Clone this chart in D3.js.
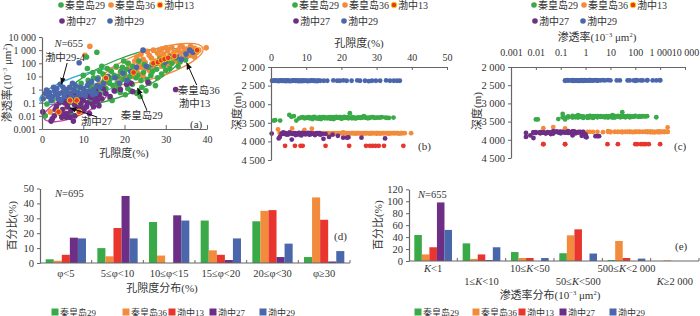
<!DOCTYPE html>
<html>
<head>
<meta charset="utf-8">
<script src="https://cdn.jsdelivr.net/npm/d3@7"></script>
<style>
body { margin: 0; background: #fff; }
svg text { font-family: "Liberation Serif", "Noto Sans CJK SC", serif; fill: #333; }
</style>
</head>
<body>
<svg width="700" height="316"></svg>
<script>
var fields = ["秦皇岛29", "秦皇岛36", "渤中13", "渤中27", "渤中29"];
var fieldColors = ["#3aaa48", "#f28b3c", "#e8352e", "#6d2f85", "#4b67ac"];

// samples: [porosity %, permeability 10^-3 um2, depth m]
var qhd29 = [[0.8,0.01,3440],[1.2,0.08,3430],[2.6,0.15,3440],[5.2,0.12,3290],[5.8,0.3,3340],[6.5,0.5,3320],
  [7.2,0.012,3440],[8.0,0.2,3380],[8.5,0.4,3360],[9.0,1.5,3350],[9.5,3,3380],[9.8,0.2,3370],[10.0,12,3360],
  [10.2,0.6,3370],[10.8,300,3350],[11.0,40,3380],[11.2,5,3360],[11.5,0.12,3380],[11.8,1.2,3400],[12.0,3,3350],
  [12.3,20,3340],[12.5,8,3360],[12.8,0.3,3380],[13.0,1.5,3370],[13.3,700,3380],[13.6,8,3390],[13.8,0.6,3350],
  [14.0,25,3360],[14.2,2,3400],[14.5,60,3370],[14.8,15,3350],[15.0,4,3350],[15.3,0.5,3380],[15.5,1.2,3360],
  [15.8,40,3360],[16.0,6,3380],[16.4,3,3370],[16.5,0.2,3360],[16.6,7,3350],[16.8,25,3380],[17.0,0.15,3390],
  [17.2,2,3350],[17.5,12,3390],[17.8,0.8,3400],[18.0,60,3350],[18.2,3,3360],[18.4,10,3370],[18.6,1.5,3340],
  [19.0,0.6,3360],[19.1,25,3360],[19.5,50,3350],[19.7,6,3370],[19.8,150,3350],[20.0,15,3390],[20.2,0.4,3380],
  [20.5,35,3360],[20.8,100,3340],[20.8,1.2,3360],[21.0,4,3370],[21.3,10,3360],[21.5,0.8,3370],[21.9,2.5,3350],
  [22.0,60,3380],[22.4,30,3240],[22.8,8,3360],[23.0,0.5,3380],[23.2,12,3350],[23.5,150,3360],[23.8,0.3,3380],
  [24.0,5,3370],[24.2,1.5,3380],[24.6,20,3360],[24.8,80,3360],[25.2,0.8,3360],[25.5,6,3370],[25.8,50,3350],
  [26.0,3,3360],[26.4,12,3320],[26.8,25,3360],[27.0,90,3360],[27.5,2,3380],[27.8,35,3360],[28.0,8,3370],
  [28.6,200,3350],[29.0,15,3350],[29.5,70,3370],[30.0,30,3360],[30.5,150,3360],[31.0,40,3360],[31.5,100,3350],
  [32.5,250,3360],[33.0,60,3370],[33.5,130,3370],[34.8,180,3360]];
var qhd36 = [[2.0,0.02,3680],[2.5,0.3,3780],[4.0,0.5,3790],[6.0,0.05,3650],[7.0,0.8,3780],[9.5,0.15,3690],
  [10.4,400,3780],[11.6,2000,3660],[12.0,1.5,3780],[13.3,0.5,3780],[14.0,3,3780],[15.0,2,3780],[16.0,10,3780],
  [16.5,30,3780],[17.5,1.2,3780],[18.0,50,3780],[18.5,5,3790],[19.0,20,3780],[19.5,8,3780],[20.0,15,3780],
  [20.5,8,3760],[21.0,40,3780],[21.0,100,3780],[21.5,30,3780],[22.0,60,3780],[22.0,10,3790],[22.5,150,3780],
  [23.0,300,3780],[23.0,25,3780],[23.5,90,3780],[23.5,15,3780],[24.0,500,3790],[24.0,50,3780],[24.5,200,3780],
  [24.5,10,3780],[25.0,120,3780],[25.0,40,3780],[25.5,800,3780],[26.0,400,3780],[26.0,30,3790],[26.5,250,3780],
  [26.5,20,3780],[27.0,1000,3780],[27.0,60,3780],[27.5,150,3780],[28.0,600,3790],[28.0,100,3780],
  [28.5,350,3780],[28.5,900,3780],[29.0,1200,3780],[29.0,60,3780],[29.5,500,3780],[30.0,200,3780],
  [30.0,80,3790],[30.0,1500,3780],[30.5,900,3780],[31.0,400,3790],[31.0,70,3780],[31.5,1500,3780],
  [32.0,700,3780],[32.0,150,3780],[32.5,300,3780],[33.0,1000,3780],[33.0,120,3780],[33.5,600,3790],
  [33.5,2000,3780],[34.0,1800,3780],[34.0,250,3780],[34.5,800,3780],[35.0,1200,3780],[35.0,300,3780],
  [35.5,500,3780],[36.0,2000,3780],[36.0,400,3780],[36.5,900,3790],[37.0,1400,3780],[37.0,300,3780],
  [37.5,700,3780],[38.0,1000,3780],[39.8,1500,3780]];
var bz13 = [[4.0,0.02,4120],[6.8,0.15,4120],[8.4,0.15,4120],[9.0,0.02,4120],[15.5,7.6,4120],[22.2,20,4120],
  [27.0,100,4120],[28.1,120,4120],[28.9,170,4120],[29.7,210,4120],[30.6,260,4120],[32.1,350,4120],[37.6,1000,4120]];
var bz27 = [[0.2,0.02,3790],[2.2,0.004,3920],[2.5,0.006,3880],[3.0,0.01,3790],[3.2,0.03,3800],[3.5,0.05,3760],
  [3.8,0.02,3800],[4.0,0.2,3790],[4.2,0.1,3780],[4.5,0.015,3820],[4.8,0.008,3800],[5.0,0.03,3790],
  [5.0,0.015,3810],[5.3,0.2,3760],[5.5,0.1,3780],[5.9,0.008,3950],[6.0,0.015,3790],[6.2,0.05,3800],
  [6.4,0.3,3790],[6.6,0.12,3780],[6.8,0.008,3800],[7.0,0.025,3830],[7.3,0.3,3790],[7.6,0.004,3810],
  [7.8,0.2,3790],[7.9,0.07,3770],[8.0,0.01,3810],[8.1,0.6,3780],[8.3,0.15,3800],[8.6,0.04,3840],
  [8.8,0.3,3770],[9.0,0.5,3790],[9.2,0.02,3800],[9.4,0.09,3780],[9.6,0.04,3800],[9.8,0.2,3810],
  [10.0,0.15,3790],[10.2,0.03,3800],[10.6,0.35,3770],[10.8,0.05,3810],[11.0,0.1,3820],[11.2,0.3,3780],
  [11.5,0.6,3790],[11.5,0.015,3800],[12.0,0.25,3800],[12.2,0.08,3800],[12.5,0.05,3830],[12.8,0.12,3790],
  [13.0,0.8,3780],[13.2,0.3,3790],[13.5,0.15,3800],[13.8,0.06,3780],[14.0,0.4,3820],[14.5,0.2,3800],
  [14.9,1.1,3930],[15.5,0.5,3800],[16.5,0.3,3880],[17.5,0.8,3820],[19.0,1.0,3850],[20.5,2.5,3900],
  [21.6,3.0,3900],[22.0,0.7,3890],[25.7,3.5,3900],[32.4,1.0,3920]];
var bz29 = [[0.3,0.2,2370],[0.8,0.5,2370],[1.1,0.9,2360],[1.5,0.3,2370],[1.8,0.6,2370],[2.2,0.15,2380],
  [2.5,0.3,2360],[2.8,1.5,2360],[3.0,0.8,2370],[3.3,0.4,2370],[3.6,1.2,2370],[3.9,0.2,2370],[4.2,0.5,2380],
  [4.4,2.5,2360],[4.6,0.15,2370],[4.9,0.6,2370],[5.1,1.5,2370],[5.4,0.3,2380],[5.9,1.0,2370],[6.1,0.6,2370],
  [6.4,0.18,2360],[6.7,1.5,2360],[6.9,0.5,2370],[7.1,0.3,2370],[7.4,3.0,2370],[7.7,1.0,2370],[7.9,0.8,2380],
  [8.1,2,2370],[8.4,0.25,2370],[8.8,0.6,2380],[9.0,110,2360],[9.3,1.5,2370],[9.5,0.4,2370],[10.0,1.2,2370],
  [10.3,0.8,2370],[10.5,0.35,2380],[11.0,2.0,2370],[11.3,3,2370],[11.5,0.7,2360],[12.0,4,2370],[12.3,0.4,2370],
  [12.5,1.0,2370],[13.0,0.5,2380],[13.3,2,2370],[13.5,6,2370],[14.0,1.5,2370],[15.0,3,2370],[16.0,10,2370],
  [17.7,8,2360],[18.8,3,2370],[19.6,18,2370],[20.6,5,2360],[21.5,24,2370],[22.9,49,2370],[24.5,1000,2360],
  [25.3,60,2370],[26.7,87,2370],[27.8,100,2380],[28.7,166,2370],[29.8,120,2370],[31.0,300,2370],
  [32.7,309,2360],[33.8,200,2370],[34.9,500,2370],[35.8,1000,2370],[36.6,700,2370]];
var samples = [qhd29, qhd36, bz13, bz27, bz29];
var drawOrder = [1, 0, 3, 4, 2];

// porosity distribution (%)
var phiBins = ["φ<5", "5≤φ<10", "10≤φ<15", "15≤φ<20", "20≤φ<30", "φ≥30"];
var phiQhd29 = [2.5, 10, 27.5, 28.5, 28, 4];
var phiQhd36 = [1.5, 4.5, 5, 8.5, 35, 44];
var phiBz13 = [5.5, 23.5, 0, 5.5, 35.5, 29];
var phiBz27 = [17, 45, 32, 2, 4, 1];
var phiBz29 = [16.5, 16.5, 28.5, 16.5, 13, 8];

// permeability distribution (%)
var kBins = ["K<1", "1≤K<10", "10≤K<50", "50≤K<500", "500≤K<2 000", "K≥2 000"];
var kQhd29 = [43.5, 29.5, 15, 13, 1.7, 0];
var kQhd36 = [11, 3.5, 5, 43, 33.5, 1];
var kBz13 = [23, 11, 5, 53, 5, 0];
var kBz27 = [98, 1.5, 0, 0, 0, 0];
var kBz29 = [52, 23, 5, 12.5, 4, 0];

var kTicks = [0.001, 0.01, 0.1, 1, 10, 100, 1000, 10000];
var kTickLabels = ["0.001", "0.01", "0.1", "1", "10", "100", "1 000", "10 000"];
var depthTicks = [2000, 2500, 3000, 3500, 4000, 4500];
var depthLabels = ["2 000", "2 500", "3 000", "3 500", "4 000", "4 500"];

// panel (a) annotations, in data units
var ellipses = [
  {color: "#2aa7df", from: [-0.5, 0.15], to: [21.3, 23], ry: 12},
  {color: "#c23f98", from: [0.5, 0.0065], to: [15.7, 0.69], ry: 11},
  {color: "#2e9e45", from: [5.6, 0.16], to: [33.8, 570], ry: 18},
  {color: "#f08a3c", from: [14.8, 5.4], to: [39, 1380], ry: 14}
];
var notes = [
  {lines: ["渤中29-4"], at: [0.7, 148], from: [6.1, 105], to: [4.7, 2.6]},
  {lines: ["渤中27"], at: [9.4, 0.002], from: [13.2, 0.0085], to: [6.8, 0.04]},
  {lines: ["秦皇岛29"], at: [19.1, 0.0057], from: [25.4, 0.028], to: [23.2, 1.3]},
  {lines: ["秦皇岛36", "渤中13"], at: [32.9, 0.46], from: [37.5, 2.2], to: [35.1, 105]}
];

var svg = d3.select("svg");
var axisColor = "#666";

svg.append("defs").append("marker")
  .attr("id", "arr").attr("viewBox", "0 0 10 10").attr("refX", 9).attr("refY", 5)
  .attr("markerWidth", 7).attr("markerHeight", 7).attr("orient", "auto-start-reverse")
  .append("path").attr("d", "M0,1 L10,5 L0,9 z").attr("fill", "#111");

function styleAxis(g) {
  g.select(".domain").attr("stroke", axisColor).attr("stroke-width", 1.2);
  g.selectAll(".tick line").attr("stroke", axisColor);
  g.selectAll(".tick text").attr("font-size", 10).attr("fill", "#333")
    .attr("font-family", "'Liberation Serif', serif");
}

// "渗透率(10^-3 μm²)" style label with superscripts
function kLabel(t, prefix) {
  t.append("tspan").text(prefix + "(10");
  t.append("tspan").attr("font-size", 6.5).attr("dy", -4).text("−3");
  t.append("tspan").attr("dy", 4).text(" μm");
  t.append("tspan").attr("font-size", 6.5).attr("dy", -4).text("2");
  t.append("tspan").attr("dy", 4).text(")");
}

function scatterLegend(x0, y0) {
  var pos = [[0, 0], [50, 0], [99, 0], [1, 16], [49, 16]];
  fields.forEach(function(f, i) {
    var cx = x0 + pos[i][0], cy = y0 + pos[i][1];
    svg.append("circle").attr("cx", cx).attr("cy", cy).attr("r", 2.8)
      .attr("fill", fieldColors[i])
      .attr("stroke", i == 2 ? "#f5d000" : "none").attr("stroke-width", 1);
    svg.append("text").attr("x", cx + 4).attr("y", cy + 3.8).attr("font-size", 10).text(f);
  });
}

// ---------- panel (a) ----------
var xA = d3.scaleLinear().domain([0, 40]).range([42, 207]);
var yA = d3.scaleLog().domain([0.001, 10000]).range([129, 37]);

scatterLegend(61, 5);

var gA = svg.append("g");
ellipses.forEach(function(e) {
  var x1 = xA(e.from[0]), y1 = yA(e.from[1]), x2 = xA(e.to[0]), y2 = yA(e.to[1]);
  var cx = (x1 + x2) / 2, cy = (y1 + y2) / 2;
  var rx = Math.hypot(x2 - x1, y2 - y1) / 2;
  var ang = Math.atan2(y2 - y1, x2 - x1) * 180 / Math.PI;
  gA.append("ellipse").attr("cx", cx).attr("cy", cy).attr("rx", rx).attr("ry", e.ry)
    .attr("transform", "rotate(" + ang + "," + cx + "," + cy + ")")
    .attr("fill", "none").attr("stroke", e.color).attr("stroke-width", 1.3);
});

drawOrder.forEach(function(i) {
  gA.selectAll(null).data(samples[i]).enter().append("circle")
    .attr("cx", function(d) { return xA(d[0]); })
    .attr("cy", function(d) { return yA(d[1]); })
    .attr("r", 2.8)
    .attr("fill", fieldColors[i])
    .attr("stroke", i == 2 ? "#f5d000" : "none").attr("stroke-width", 0.9);
});

notes.forEach(function(n) {
  var t = svg.append("text").attr("x", xA(n.at[0])).attr("y", yA(n.at[1])).attr("font-size", 10.5);
  n.lines.forEach(function(l, j) {
    t.append("tspan").attr("x", xA(n.at[0]) + (j ? 1 : 0)).attr("dy", j ? 13 : 0).text(l);
  });
  svg.append("line").attr("x1", xA(n.from[0])).attr("y1", yA(n.from[1]))
    .attr("x2", xA(n.to[0])).attr("y2", yA(n.to[1]))
    .attr("stroke", "#111").attr("stroke-width", 1).attr("marker-end", "url(#arr)");
});

var axA = svg.append("g").attr("transform", "translate(0,129)")
  .call(d3.axisBottom(xA).tickValues([0, 10, 20, 30, 40]).tickSizeInner(-4).tickSizeOuter(0).tickPadding(7));
styleAxis(axA);
var ayA = svg.append("g").attr("transform", "translate(42,0)")
  .call(d3.axisLeft(yA).tickValues(kTicks).tickFormat(function(d, i) { return kTickLabels[i]; })
    .tickSize(3).tickSizeOuter(0));
styleAxis(ayA);
ayA.selectAll(".tick text").attr("dy", "0.35em");

svg.append("text").attr("x", 124).attr("y", 157).attr("text-anchor", "middle").attr("font-size", 11).text("孔隙度(%)");
kLabel(svg.append("text").attr("transform", "translate(11,83) rotate(-90)").attr("text-anchor", "middle").attr("font-size", 11), "渗透率");
var nA = svg.append("text").attr("x", xA(3)).attr("y", 47).attr("font-size", 10.5);
nA.append("tspan").attr("font-style", "italic").text("N");
nA.append("tspan").text("=655");
svg.append("text").attr("x", xA(40) - 17).attr("y", 128).attr("font-size", 11).text("(a)");

// ---------- panels (b) and (c) ----------
function depthPanel(xScale, xIndex, yRange, axisX, tickVals, tickFmt, tickLabelPad) {
  var y = d3.scaleLinear().domain([2000, 4500]).range(yRange);
  var g = svg.append("g");
  drawOrder.forEach(function(i) {
    g.selectAll(null).data(samples[i]).enter().append("circle")
      .attr("cx", function(d) { return xScale(d[xIndex]); })
      .attr("cy", function(d) { return y(d[2]); })
      .attr("r", 2.4).attr("fill", fieldColors[i]);
  });
  var ax = svg.append("g").attr("transform", "translate(0," + yRange[0] + ")")
    .call(d3.axisTop(xScale).tickValues(tickVals).tickFormat(tickFmt).tickSizeInner(-3).tickSizeOuter(0).tickPadding(tickLabelPad));
  styleAxis(ax);
  var ay = svg.append("g").attr("transform", "translate(" + axisX + ",0)")
    .call(d3.axisLeft(y).tickValues(depthTicks).tickFormat(function(d, i) { return depthLabels[i]; })
      .tickSize(3).tickSizeOuter(0));
  styleAxis(ay);
  ay.selectAll(".tick text").attr("font-size", 10.5);
  svg.append("text").attr("transform", "translate(" + (axisX - 30) + ",111) rotate(-90)")
    .attr("text-anchor", "middle").attr("font-size", 11).text("深度(m)");
  return y;
}

var xB = d3.scaleLinear().domain([0, 50]).range([271, 447]);
scatterLegend(295, 5);
depthPanel(xB, 0, [67, 160], 271, [0, 10, 20, 30, 40, 50], d3.format("d"), 6);
svg.append("text").attr("x", 359).attr("y", 47).attr("text-anchor", "middle").attr("font-size", 11).text("孔隙度(%)");
svg.append("text").attr("x", 418).attr("y", 150).attr("font-size", 11).text("(b)");

var xC = d3.scaleLog().domain([0.001, 10000]).range([511, 685]);
scatterLegend(534, 5);
depthPanel(xC, 1, [67, 158], 511, kTicks, function(d, i) { return kTickLabels[i]; }, 11);
kLabel(svg.append("text").attr("x", 597).attr("y", 41).attr("text-anchor", "middle").attr("font-size", 11), "渗透率");
svg.append("text").attr("x", 674).attr("y", 150).attr("font-size", 11).text("(c)");

// ---------- bar panels ----------
function barPanel(opt) {
  var x = d3.scaleBand().domain(opt.bins).range(opt.xRange).paddingInner(0.22).paddingOuter(0.11);
  var xi = d3.scaleBand().domain(d3.range(5)).range([0, x.bandwidth()]);
  var y = d3.scaleLinear().domain([0, opt.yMax]).range(opt.yRange);
  var series = opt.series;
  opt.bins.forEach(function(b, j) {
    svg.selectAll(null).data(series).enter().append("rect")
      .attr("x", function(s, i) { return x(b) + xi(i); })
      .attr("y", function(s) { return y(s[j]); })
      .attr("width", xi.bandwidth())
      .attr("height", function(s) { return y(0) - y(s[j]); })
      .attr("fill", function(s, i) { return fieldColors[i]; });
  });
  var ay = svg.append("g").attr("transform", "translate(" + opt.xRange[0] + ",0)")
    .call(d3.axisLeft(y).tickValues(opt.yTicks).tickSize(3).tickSizeOuter(0));
  styleAxis(ay);
  ay.selectAll(".tick text").attr("font-size", 10.5);
  // baseline with group boundary ticks
  svg.append("line").attr("x1", opt.xRange[0]).attr("x2", opt.xRange[1])
    .attr("y1", y(0)).attr("y2", y(0)).attr("stroke", axisColor).attr("stroke-width", 1.2);
  d3.range(1, opt.bins.length + 1).forEach(function(k) {
    var bx = opt.xRange[0] + k * x.step();
    svg.append("line").attr("x1", bx).attr("x2", bx).attr("y1", y(0)).attr("y2", y(0) - 3)
      .attr("stroke", axisColor);
  });
  opt.bins.forEach(function(b, j) {
    var t = svg.append("text").attr("x", x(b) + x.bandwidth() / 2)
      .attr("y", opt.labelY[j % 2]).attr("text-anchor", "middle").attr("font-size", 10.5);
    b.split(/(K)/).forEach(function(part) {
      if (part === "") return;
      t.append("tspan").attr("font-style", part === "K" ? "italic" : null).text(part);
    });
  });
  var n = svg.append("text").attr("x", opt.nPos[0]).attr("y", opt.nPos[1]).attr("font-size", 10.5);
  n.append("tspan").attr("font-style", "italic").text("N");
  n.append("tspan").text("=" + opt.n);
  svg.append("text").attr("transform", "translate(" + opt.yLabelX + "," + (opt.yRange[0] + opt.yRange[1]) / 2 + ") rotate(-90)")
    .attr("text-anchor", "middle").attr("font-size", 11).text("百分比(%)");
  svg.append("text").attr("x", opt.tag[0]).attr("y", opt.tag[1]).attr("font-size", 11).text(opt.tagText);
  // legend
  fields.forEach(function(f, i) {
    var lx = opt.legendX[i];
    svg.append("rect").attr("x", lx - 3.5).attr("y", 308.5).attr("width", 7).attr("height", 7).attr("fill", fieldColors[i]);
    svg.append("text").attr("x", lx + 5).attr("y", 315.5).attr("font-size", 9).text(f);
  });
  return x;
}

barPanel({
  bins: phiBins, series: [phiQhd29, phiQhd36, phiBz13, phiBz27, phiBz29],
  xRange: [40, 350], yMax: 50, yRange: [263, 188.5], yTicks: [0, 10, 20, 30, 40, 50],
  labelY: [276.5, 276.5], n: 695, nPos: [55, 197], yLabelX: 16, tag: [334, 240], tagText: "(d)",
  legendX: [55, 126, 172, 213, 263]
});
svg.append("text").attr("x", 162).attr("y", 292).attr("text-anchor", "middle").attr("font-size", 11).text("孔隙度分布(%)");

barPanel({
  bins: kBins, series: [kQhd29, kQhd36, kBz13, kBz27, kBz29],
  xRange: [409, 699], yMax: 120, yRange: [261, 189.3], yTicks: [0, 20, 40, 60, 80, 100, 120],
  labelY: [271.5, 284.5], n: 655, nPos: [418, 198], yLabelX: 382, tag: [675, 250], tagText: "(e)",
  legendX: [418, 476, 522, 563, 613]
});
kLabel(svg.append("text").attr("x", 550).attr("y", 299).attr("text-anchor", "middle").attr("font-size", 11), "渗透率分布");
</script>
</body>
</html>
